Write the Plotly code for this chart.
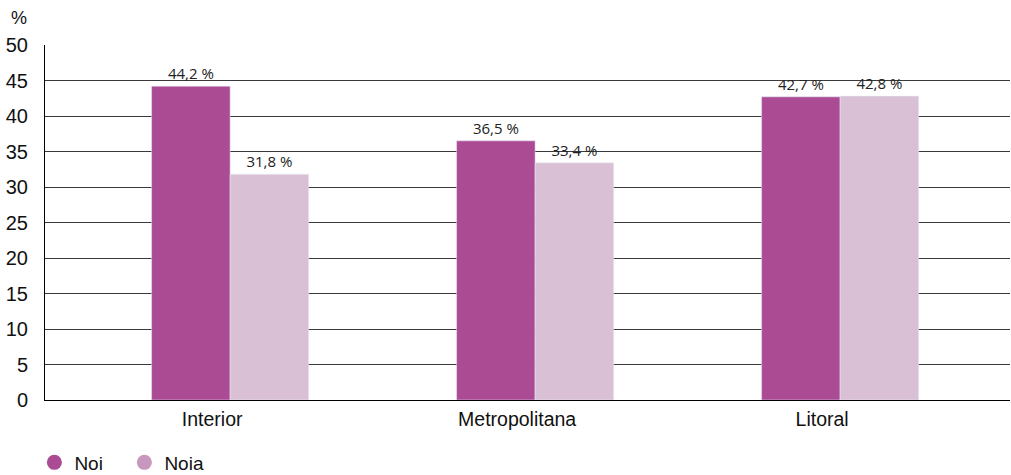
import plotly.graph_objects as go

categories = ["Interior", "Metropolitana", "Litoral"]
noi = [44.2, 36.5, 42.7]
noia = [31.8, 33.4, 42.8]
y_ticks = [0, 5, 10, 15, 20, 25, 30, 35, 40, 45, 50]

c_noi = "#AB4B94"
c_noia = "#DAC0D5"
c_noia_leg = "#C797BD"

xs = list(range(len(categories)))
FONT = "Liberation Sans, Arial"

fig = go.Figure()
fig.add_trace(go.Bar(
    x=xs, y=noi, name="Noi", marker_color=c_noi,
    text=[f"{v:.1f} %".replace(".", ",") for v in noi],
    textposition="outside", cliponaxis=False,
    textfont=dict(family="Open Sans", size=15, color="#222"),
    showlegend=False,
))
fig.add_trace(go.Bar(
    x=xs, y=noia, name="Noia", marker_color=c_noia,
    text=[f"{v:.1f} %".replace(".", ",") for v in noia],
    textposition="outside", cliponaxis=False,
    textfont=dict(family="Open Sans", size=15, color="#222"),
    showlegend=False,
))
# legend entries (circle markers)
fig.add_trace(go.Scatter(x=[None], y=[None], mode="markers", name="Noi",
                         marker=dict(symbol="circle", size=15, color=c_noi)))
fig.add_trace(go.Scatter(x=[None], y=[None], mode="markers", name="Noia",
                         marker=dict(symbol="circle", size=15, color=c_noia_leg)))

fig.update_layout(
    width=1011, height=475,
    margin=dict(l=45, r=1, t=45, b=75, autoexpand=False),
    paper_bgcolor="white", plot_bgcolor="white",
    barmode="group", bargap=0.485, bargroupgap=0,
    font=dict(family=FONT, size=18, color="#111"),
    xaxis=dict(
        range=[-0.607, 2.557], tickmode="array", tickvals=xs, ticktext=categories,
        showgrid=False, showline=True, linecolor="#000", linewidth=1,
        ticks="", zeroline=False, ticklabelshift=-18, ticklabelstandoff=2,
        tickfont=dict(family=FONT, size=19.5, color="#111"),
    ),
    yaxis=dict(
        range=[0, 50], tickvals=y_ticks, showgrid=True, gridcolor="#3a3a3a",
        gridwidth=1, showline=True, linecolor="#000", linewidth=1,
        ticks="", zeroline=False, ticklabelstandoff=12,
        tickfont=dict(family=FONT, size=20, color="#111"),
    ),
    legend=dict(orientation="h", x=-0.011, xref="paper", xanchor="left",
                y=-0.176, yanchor="middle", entrywidth=45,
                font=dict(family=FONT, size=19, color="#111"),
                itemsizing="trace", bgcolor="rgba(0,0,0,0)"),
    annotations=[dict(text="%", xref="paper", yref="paper", x=-0.027, y=1.075,
                      xanchor="center", yanchor="middle", showarrow=False,
                      font=dict(family=FONT, size=18, color="#111"))],
)

fig.write_html("out.html", config={"displayModeBar": False},
               post_script="document.body.style.margin='0';")
